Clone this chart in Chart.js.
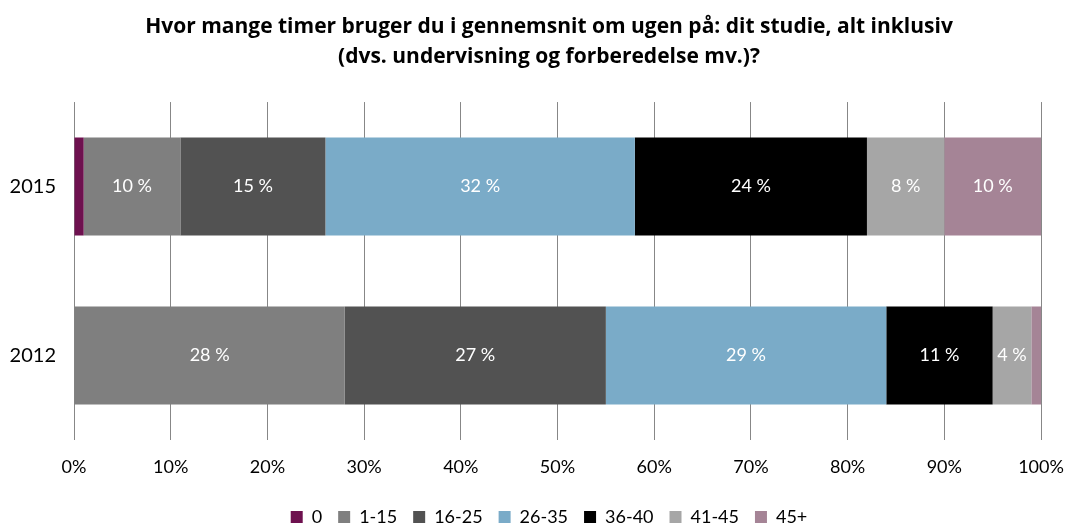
<!DOCTYPE html>
<html>
<head>
<meta charset="utf-8">
<script src="https://cdn.jsdelivr.net/npm/chart.js@4/dist/chart.umd.min.js"></script>
<style>
  html, body { margin: 0; padding: 0; background: #fff; }
  #wrap { width: 1067px; height: 524px; }
</style>
</head>
<body>
<div id="wrap"><canvas id="myChart" width="1067" height="524"></canvas></div>
<script>
var years = ["2015", "2012"];
var groups = ["0", "1-15", "16-25", "26-35", "36-40", "41-45", "45+"];
var v0 = [1, 0];
var v1_15 = [10, 28];
var v16_25 = [15, 27];
var v26_35 = [32, 29];
var v36_40 = [24, 11];
var v41_45 = [8, 4];
var v45plus = [10, 1];
var xTicks = [0, 10, 20, 30, 40, 50, 60, 70, 80, 90, 100];

var colors = ["#6e114f", "#7f7f7f", "#525252", "#7aabc8", "#000000", "#a6a6a6", "#a58496"];
var series = [v0, v1_15, v16_25, v26_35, v36_40, v41_45, v45plus];

var fontName = "Lato, 'Open Sans', sans-serif";

// labels inside the bars
var barLabels = {
  id: "barLabels",
  afterDatasetsDraw: function (chart) {
    var ctx = chart.ctx;
    ctx.save();
    ctx.font = "18px " + fontName;
    ctx.fillStyle = "#ffffff";
    ctx.textAlign = "center";
    ctx.textBaseline = "middle";
    chart.data.datasets.forEach(function (ds, i) {
      var meta = chart.getDatasetMeta(i);
      meta.data.forEach(function (bar, j) {
        var v = ds.data[j];
        if (v < 3) return;
        var p = bar.getCenterPoint();
        ctx.fillText(v + " %", p.x, p.y);
      });
    });
    ctx.restore();
  }
};

// title and legend sit a bit right of the canvas centre
var shiftCentre = {
  id: "shiftCentre",
  afterLayout: function (chart) {
    var d = 549 - (chart.legend.left + chart.legend.right) / 2;
    [chart.legend, chart.titleBlock].forEach(function (b) {
      b.left += d;
      b.right += d;
    });
  }
};

new Chart("myChart", {
  type: "bar",
  data: {
    labels: years,
    datasets: groups.map(function (g, i) {
      return {
        label: g,
        data: series[i],
        backgroundColor: colors[i],
        borderWidth: 0,
        categoryPercentage: 0.58,
        barPercentage: 1
      };
    })
  },
  options: {
    indexAxis: "y",
    responsive: false,
    animation: false,
    layout: { padding: { left: 0, right: 26, top: 0, bottom: -12 } },
    plugins: {
      title: {
        display: true,
        text: ["Hvor mange timer bruger du i gennemsnit om ugen på: dit studie, alt inklusiv",
               "(dvs. undervisning og forberedelse mv.)?"],
        color: "#000",
        font: { family: "'Open Sans', sans-serif", size: 21, weight: "bold", lineHeight: 1.43 },
        padding: { top: 12, bottom: 30 }
      },
      legend: {
        position: "bottom",
        labels: {
          color: "#000",
          boxWidth: 12,
          boxHeight: 12,
          padding: 16,
          font: { family: fontName, size: 18 }
        }
      },
      tooltip: { enabled: false }
    },
    scales: {
      x: {
        stacked: true,
        min: 0,
        max: 100,
        afterBuildTicks: function (scale) {
          scale.ticks = xTicks.map(function (t) { return { value: t }; });
        },
        afterFit: function (scale) {
          scale.height = 52;
          scale.paddingLeft = 0;
          scale.paddingRight = 0;
        },
        border: { display: false },
        grid: { color: "#878787", lineWidth: 1, drawTicks: false },
        ticks: {
          color: "#000",
          padding: 16,
          maxRotation: 0,
          font: { family: fontName, size: 18 },
          callback: function (v) { return v + "%"; }
        }
      },
      y: {
        stacked: true,
        afterFit: function (scale) { scale.width = 74; },
        border: { display: false },
        grid: { display: false },
        ticks: {
          color: "#000",
          padding: 10,
          font: { family: fontName, size: 20 }
        }
      }
    }
  },
  plugins: [barLabels, shiftCentre]
});
</script>
</body>
</html>
